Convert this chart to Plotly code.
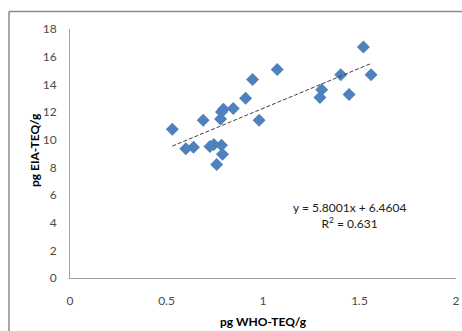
import plotly.graph_objects as go
import numpy as np

who_teq = [0.53, 0.60, 0.64, 0.69, 0.725, 0.745, 0.76, 0.785, 0.79, 0.78, 0.785, 0.795, 0.846,
           0.91, 0.946, 0.98, 1.074, 1.304, 1.295, 1.403, 1.446, 1.52, 1.56]
eia_teq = [10.75, 9.35, 9.45, 11.4, 9.5, 9.65, 8.2, 9.6, 8.95, 11.5, 12.0, 12.2, 12.26,
           13.0, 14.35, 11.4, 15.07, 13.6, 13.05, 14.7, 13.27, 16.7, 14.7]
slope, intercept = 5.8001, 6.4604
r2 = 0.631
x_ticks = [0, 0.5, 1, 1.5, 2]
x_tick_labels = ["0", "0.5", "1", "1.5", "2"]
y_ticks = [0, 2, 4, 6, 8, 10, 12, 14, 16, 18]

fit_x = np.array([min(who_teq), max(who_teq)])
fit_y = slope * fit_x + intercept

fig = go.Figure()
fig.add_trace(go.Scatter(x=who_teq, y=eia_teq, mode="markers",
                         marker=dict(symbol="diamond", size=10, color="#4F81BD",
                                     line=dict(width=0)),
                         showlegend=False))
fig.add_trace(go.Scatter(x=fit_x, y=fit_y, mode="lines",
                         line=dict(color="#404040", width=1, dash="4px,2px"),
                         showlegend=False))

font_family = "Lato, Open Sans, sans-serif"
fig.update_layout(
    width=462, height=331,
    margin=dict(l=70, r=6, t=28.5, b=52.5),
    paper_bgcolor="white", plot_bgcolor="white",
    font=dict(family=font_family, size=12, color="#4A4A4A"),
    xaxis=dict(range=[0, 2], tickvals=x_ticks, ticktext=x_tick_labels,
               showgrid=False, zeroline=False, showline=True,
               linecolor="#A0A0A0", linewidth=1, ticks="",
               ticklabelstandoff=12, automargin=False),
    yaxis=dict(range=[0, 18], tickvals=y_ticks,
               showgrid=False, zeroline=False, showline=True,
               linecolor="#A0A0A0", linewidth=1, ticks="",
               ticklabelstandoff=10, automargin=False),
    annotations=[
        dict(xref="x", yref="y", x=1.446, y=4.5,
             text=f"y = {slope}x + {intercept}<br>R<sup>2</sup> = {r2}",
             showarrow=False, align="center",
             font=dict(size=12, color="#202020")),
        dict(xref="paper", yref="paper", x=0.5, y=-0.175, yanchor="middle",
             text="<b>pg WHO-TEQ/g</b>", showarrow=False,
             font=dict(size=12, color="black")),
        dict(xref="paper", yref="paper", x=-0.09, y=0.515, xanchor="center", yanchor="middle",
             text="<b>pg EIA-TEQ/g</b>", showarrow=False, textangle=-90,
             font=dict(size=12, color="black")),
    ],
    shapes=[
        dict(type="line", xref="paper", yref="paper", x0=-0.158, x1=1.1, y0=1.07, y1=1.07,
             line=dict(color="#8C8C8C", width=1.5)),
        dict(type="line", xref="paper", yref="paper", x0=-0.158, x1=-0.158, y0=1.07, y1=-0.3,
             line=dict(color="#8C8C8C", width=1.5)),
    ],
)

fig.write_html("out.html", config={"displayModeBar": False},
               post_script="document.body.style.margin='0';document.body.style.overflow='hidden';")
